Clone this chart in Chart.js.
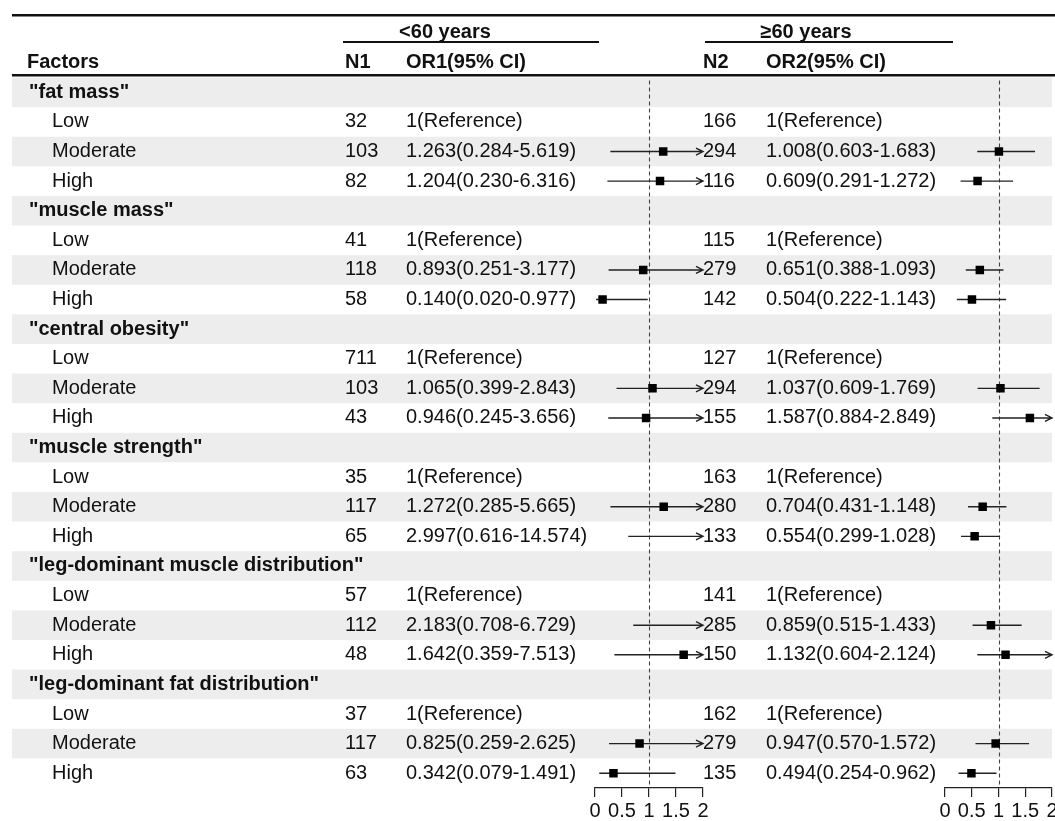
<!DOCTYPE html>
<html>
<head>
<meta charset="utf-8">
<script src="https://cdn.jsdelivr.net/npm/chart.js@4.4.1/dist/chart.umd.min.js"></script>
<style>
  html, body { margin: 0; padding: 0; background: #fff; }
  #wrap { width: 1055px; height: 821px; }
</style>
</head>
<body>
<div id="wrap"><canvas id="forest"></canvas></div>
<script>
const factors = ['"fat mass"', '"muscle mass"', '"central obesity"', '"muscle strength"',
  '"leg-dominant muscle distribution"', '"leg-dominant fat distribution"'];
const levels = ['Low', 'Moderate', 'High'];

// <60 years
const n1 = [32, 103, 82, 41, 118, 58, 711, 103, 43, 35, 117, 65, 57, 112, 48, 37, 117, 63];
const or1 = [null, 1.263, 1.204, null, 0.893, 0.140, null, 1.065, 0.946, null, 1.272, 2.997, null, 2.183, 1.642, null, 0.825, 0.342];
const lo1 = [null, 0.284, 0.230, null, 0.251, 0.020, null, 0.399, 0.245, null, 0.285, 0.616, null, 0.708, 0.359, null, 0.259, 0.079];
const hi1 = [null, 5.619, 6.316, null, 3.177, 0.977, null, 2.843, 3.656, null, 5.665, 14.574, null, 6.729, 7.513, null, 2.625, 1.491];

// >=60 years
const n2 = [166, 294, 116, 115, 279, 142, 127, 294, 155, 163, 280, 133, 141, 285, 150, 162, 279, 135];
const or2 = [null, 1.008, 0.609, null, 0.651, 0.504, null, 1.037, 1.587, null, 0.704, 0.554, null, 0.859, 1.132, null, 0.947, 0.494];
const lo2 = [null, 0.603, 0.291, null, 0.388, 0.222, null, 0.609, 0.884, null, 0.431, 0.299, null, 0.515, 0.604, null, 0.570, 0.254];
const hi2 = [null, 1.683, 1.272, null, 1.093, 1.143, null, 1.769, 2.849, null, 1.148, 1.028, null, 1.433, 2.124, null, 1.572, 0.962];

const axisTicks = [0, 0.5, 1, 1.5, 2];

const FONT = "'Liberation Sans', Arial, sans-serif";
const FS = 20;
const nRows = factors.length * 4;
const panels = { xL: [595, 703], xR: [945, 1052] };

const rowOf = (k) => Math.floor(k / 3) * 4 + 1 + (k % 3);
const fmtOR = (o, l, h) => o === null ? '1(Reference)' : `${o.toFixed(3)}(${l.toFixed(3)}-${h.toFixed(3)})`;
const toPoints = (or) => or.map((v, k) => v === null ? null : { x: v, y: rowOf(k) }).filter((p) => p);

const inRange = (ctx) => ctx.raw && ctx.raw.x <= axisTicks[axisTicks.length - 1] ? 6 : 0;

const xScale = () => ({
  type: 'linear',
  position: 'bottom',
  stack: 'axis',
  min: axisTicks[0],
  max: axisTicks[axisTicks.length - 1],
  afterFit: (s) => { s.height = 33; },
  afterBuildTicks: (s) => { s.ticks = axisTicks.map((v) => ({ value: v })); },
  grid: { drawOnChartArea: false, drawTicks: true, tickLength: 9, color: '#222', lineWidth: 1.2 },
  border: { display: true, color: '#222', width: 1.2 },
  ticks: {
    color: '#111', font: { family: FONT, size: FS }, padding: 2, maxRotation: 0, autoSkip: false,
    callback: (v) => String(v)
  }
});

// place the two axes over their own columns
const panelLayout = {
  id: 'panelLayout',
  afterLayout(chart) {
    const area = chart.chartArea;
    Object.keys(panels).forEach((id) => {
      const s = chart.scales[id];
      const [l, r] = panels[id];
      s.left = l; s.right = r; s.width = r - l;
      s.top = area.bottom; s.bottom = area.bottom + 33; s.height = 33;
      s.configure();
    });
  }
};

const table = {
  id: 'table',
  beforeDraw(chart) {
    const { ctx } = chart;
    const y = chart.scales.y;
    ctx.save();
    // row bands
    ctx.fillStyle = '#ededed';
    for (let i = 0; i < nRows; i += 2) {
      const t = y.getPixelForValue(i - 0.5);
      const b = y.getPixelForValue(i + 0.5);
      ctx.fillRect(12, t, 1040, b - t);
    }
    // rules
    ctx.fillStyle = '#111';
    ctx.fillRect(12, 14, 1043, 2.5);
    ctx.fillRect(12, 74, 1043, 2.5);
    ctx.fillRect(343, 41, 256, 2);
    ctx.fillRect(705, 41, 248, 2);

    ctx.textBaseline = 'middle';
    ctx.fillStyle = '#111';
    ctx.font = `bold ${FS}px ${FONT}`;
    ctx.textAlign = 'center';
    ctx.fillText('<60 years', 445, 32);
    ctx.fillText('≥60 years', 806, 32);
    ctx.textAlign = 'left';
    ctx.fillText('Factors', 27, 62);
    ctx.fillText('N1', 345, 62);
    ctx.fillText('OR1(95% CI)', 406, 62);
    ctx.fillText('N2', 703, 62);
    ctx.fillText('OR2(95% CI)', 766, 62);

    factors.forEach((f, g) => {
      ctx.font = `bold ${FS}px ${FONT}`;
      ctx.fillText(f, 29, y.getPixelForValue(g * 4));
      ctx.font = `${FS}px ${FONT}`;
      levels.forEach((lv, j) => {
        const k = g * 3 + j;
        const py = y.getPixelForValue(rowOf(k));
        ctx.fillText(lv, 52, py);
        ctx.fillText(String(n1[k]), 345, py);
        ctx.fillText(fmtOR(or1[k], lo1[k], hi1[k]), 406, py);
        ctx.fillText(String(n2[k]), 703, py);
        ctx.fillText(fmtOR(or2[k], lo2[k], hi2[k]), 766, py);
      });
    });
    ctx.restore();
  },
  beforeDatasetsDraw(chart) {
    const { ctx, chartArea } = chart;
    const y = chart.scales.y;
    ctx.save();
    [['xL', lo1, hi1], ['xR', lo2, hi2]].forEach(([id, lo, hi]) => {
      const sx = chart.scales[id];
      // reference line at OR = 1
      const x1 = Math.round(sx.getPixelForValue(1)) + 0.5;
      ctx.strokeStyle = '#444';
      ctx.lineWidth = 1.1;
      ctx.setLineDash([4, 3]);
      ctx.beginPath();
      ctx.moveTo(x1, chartArea.top + 3);
      ctx.lineTo(x1, chartArea.bottom - 2);
      ctx.stroke();
      ctx.setLineDash([]);
      // confidence intervals
      ctx.strokeStyle = '#222';
      ctx.lineWidth = 1.4;
      lo.forEach((l, k) => {
        if (l === null) return;
        const py = y.getPixelForValue(rowOf(k));
        const a = sx.getPixelForValue(Math.max(l, sx.min));
        const b = sx.getPixelForValue(Math.min(hi[k], sx.max));
        ctx.beginPath();
        ctx.moveTo(a, py);
        ctx.lineTo(b, py);
        if (hi[k] > sx.max) {
          ctx.moveTo(b - 7, py - 3.5);
          ctx.lineTo(b, py);
          ctx.lineTo(b - 7, py + 3.5);
        }
        ctx.stroke();
      });
    });
    ctx.restore();
  }
};

const pointSet = (or, axis) => ({
  type: 'scatter',
  data: toPoints(or),
  xAxisID: axis,
  yAxisID: 'y',
  pointStyle: 'rect',
  pointRadius: inRange,
  backgroundColor: '#000',
  borderColor: '#000',
  borderWidth: 0
});

new Chart(document.getElementById('forest'), {
  type: 'scatter',
  data: { datasets: [pointSet(or1, 'xL'), pointSet(or2, 'xR')] },
  options: {
    responsive: true,
    maintainAspectRatio: false,
    animation: false,
    events: [],
    layout: { padding: { top: 77.5, left: 12, right: 3, bottom: 0 } },
    plugins: { legend: { display: false }, tooltip: { enabled: false } },
    scales: {
      y: { type: 'linear', display: false, reverse: true, min: -0.5, max: nRows - 0.5 },
      xL: xScale(),
      xR: xScale()
    }
  },
  plugins: [panelLayout, table]
});
</script>
</body>
</html>
